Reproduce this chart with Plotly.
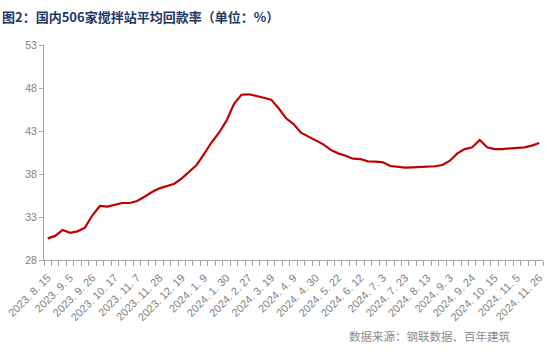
import plotly.graph_objects as go

dates = [
    "2023.8.15", "2023.8.22", "2023.8.29", "2023.9.5", "2023.9.12", "2023.9.19",
    "2023.9.26", "2023.10.3", "2023.10.10", "2023.10.17", "2023.10.24", "2023.10.31",
    "2023.11.7", "2023.11.14", "2023.11.21", "2023.11.28", "2023.12.5", "2023.12.12",
    "2023.12.19", "2023.12.26", "2024.1.2", "2024.1.9", "2024.1.16", "2024.1.23",
    "2024.1.30", "2024.2.6", "2024.2.20", "2024.2.27", "2024.3.5", "2024.3.12",
    "2024.3.19", "2024.3.26", "2024.4.2", "2024.4.9", "2024.4.16", "2024.4.23",
    "2024.4.30", "2024.5.7", "2024.5.14", "2024.5.22", "2024.5.28", "2024.6.4",
    "2024.6.12", "2024.6.18", "2024.6.25", "2024.7.3", "2024.7.9", "2024.7.16",
    "2024.7.23", "2024.7.30", "2024.8.6", "2024.8.13", "2024.8.20", "2024.8.27",
    "2024.9.3", "2024.9.10", "2024.9.17", "2024.9.24", "2024.10.1", "2024.10.8",
    "2024.10.15", "2024.10.22", "2024.10.29", "2024.11.5", "2024.11.12", "2024.11.19",
    "2024.11.26",
]

rate = [
    30.52, 30.80, 31.49, 31.17, 31.33, 31.76, 33.20, 34.28, 34.20, 34.40,
    34.63, 34.63, 34.86, 35.36, 35.90, 36.33, 36.57, 36.87, 37.50, 38.27,
    39.05, 40.33, 41.69, 42.80, 44.20, 46.14, 47.22, 47.27, 47.03, 46.87,
    46.65, 45.64, 44.48, 43.80, 42.80, 42.34, 41.95, 41.45, 40.80, 40.40,
    40.13, 39.78, 39.74, 39.47, 39.43, 39.36, 38.93, 38.85, 38.74, 38.78,
    38.81, 38.90, 38.90, 39.05, 39.55, 40.40, 40.90, 41.10, 41.95, 41.10,
    40.90, 40.90, 40.94, 41.00, 41.10, 41.30, 41.60,
]

label_step = 3
label_vals = dates[::label_step]
label_text = [d.replace(".", ". ") for d in label_vals]

y_ticks = [28, 33, 38, 43, 48, 53]

n = len(dates)
boundaries = [i - 0.5 for i in range(n + 1)]

fig = go.Figure()
fig.add_trace(go.Scatter(
    x=dates, y=rate, mode="lines",
    line=dict(color="#C00000", width=2.2),
    hoverinfo="skip",
))
# invisible helper trace so the boundary-tick overlay axis is drawn
fig.add_trace(go.Scatter(
    x=boundaries, y=[None] * len(boundaries), xaxis="x2", yaxis="y",
    mode="lines", hoverinfo="skip", showlegend=False,
))

axis_gray = "#A6A6A6"
label_gray = "#7F7F7F"

fig.update_layout(
    width=547, height=355,
    margin=dict(l=44, r=2, t=45, b=95),
    paper_bgcolor="white", plot_bgcolor="white",
    showlegend=False,
    font=dict(family="Liberation Sans, Arial, sans-serif", color=label_gray),
    xaxis=dict(
        type="category",
        tickmode="array", tickvals=label_vals, ticktext=label_text,
        ticks="outside", ticklen=6, tickcolor="rgba(0,0,0,0)", tickwidth=1,
        tickangle=-45,
        tickfont=dict(size=11, color=label_gray),
        showline=True, linecolor=axis_gray, linewidth=1,
        showgrid=False, zeroline=False,
        range=[-0.5, n - 0.5],
    ),
    xaxis2=dict(
        type="linear", overlaying="x", anchor="y",
        range=[-0.5, n - 0.5], autorange=False,
        tickmode="array", tickvals=boundaries, showticklabels=False,
        ticks="outside", ticklen=5, tickcolor="#A0A0A0", tickwidth=1.2,
        showline=False, showgrid=False, zeroline=False,
    ),
    yaxis=dict(
        range=[28, 53], tickmode="array", tickvals=y_ticks,
        ticks="outside", ticklen=4, tickcolor=axis_gray, tickwidth=1.2,
        tickfont=dict(size=10.5, color=label_gray),
        showline=True, linecolor=axis_gray, linewidth=1,
        showgrid=False, zeroline=False,
    ),
    annotations=[
        dict(
            text="<b>图2：国内506家搅拌站平均回款率（单位：%）</b>",
            xref="paper", yref="paper", x=-44 / 501, y=1 + 29 / 215,
            xanchor="left", yanchor="middle", showarrow=False,
            font=dict(family="Noto Sans CJK SC", size=13, color="#1F3864"),
        ),
        dict(
            text="数据来源：钢联数据、百年建筑",
            xref="paper", yref="paper", x=(431 - 44) / 501, y=-(336 - 260) / 215,
            xanchor="center", yanchor="middle", showarrow=False,
            font=dict(family="Noto Sans CJK SC", size=11.5, color="#8C8C8C"),
        ),
    ],
)

fig.write_html(
    "out.html",
    config={"displayModeBar": False},
    post_script="document.body.style.margin='0';document.body.style.padding='0';",
)
